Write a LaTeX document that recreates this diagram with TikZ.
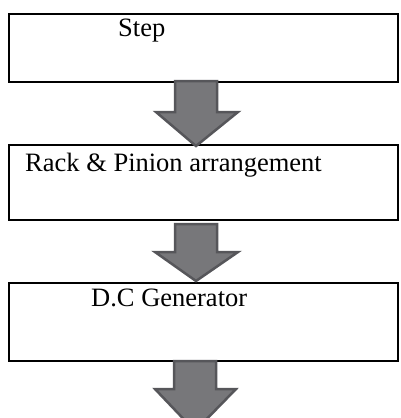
\documentclass[tikz,border=0pt]{standalone}
\usepackage{fontspec}
\setmainfont{Liberation Serif}
\definecolor{arrowfill}{HTML}{77777A}
\definecolor{arrowline}{HTML}{56565A}
\tikzset{
  stepbox/.style={draw=black, line width=2pt, fill=white},
  steplabel/.style={inner sep=0pt, anchor=base west, font=\fontsize{26.5}{30}\selectfont},
  blockarrow/.style={fill=arrowfill, draw=arrowline, line width=2.5pt, line join=miter}
}
\begin{document}
\begin{tikzpicture}[x=1pt,y=-1pt]
\useasboundingbox (0,0) rectangle (400,418);
\begin{scope}
\clip (0,0) rectangle (400,418);
% boxes
\draw[stepbox] (9,14) rectangle (398,82);
\coordinate (b1) at (9,14);
\draw[stepbox] (9,145) rectangle (398,220);
\draw[stepbox] (9,283) rectangle (398,361);
% labels
\node[steplabel] (t1) at (118,36) {Step};
\node[steplabel] (t2) at (25,171) {Rack \& Pinion arrangement};
\node[steplabel] (t3) at (91,306) {D.C Generator};
% block arrows
\draw[blockarrow] (175,81) -- (217,81) -- (217,112) -- (238,112) -- (196,146) -- (156,112) -- (175,112) -- cycle;
\draw[blockarrow] (175,224) -- (217,224) -- (217,252) -- (238,252) -- (196,281) -- (155,252) -- (175,252) -- cycle;
\draw[blockarrow] (174,361) -- (216,361) -- (216,389) -- (236,389) -- (195,431) -- (155,389) -- (174,389) -- cycle;
\end{scope}
\end{tikzpicture}
\end{document}
